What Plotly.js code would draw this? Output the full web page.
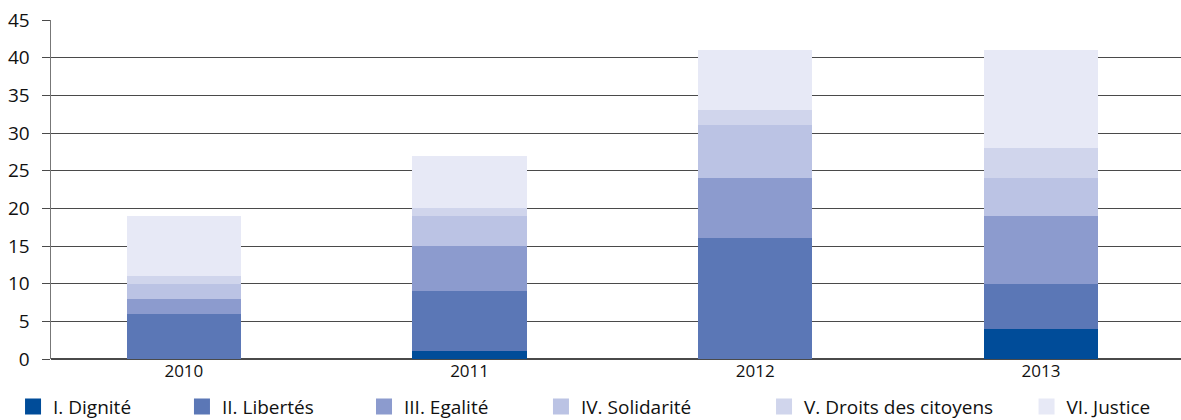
<!DOCTYPE html>
<html><head><meta charset="utf-8">
<script src="https://cdn.plot.ly/plotly-3.0.1.min.js"></script>
<style>html,body{margin:0;padding:0;background:#fff;}#chart{width:1181px;height:420px;}</style>
</head><body><div id="chart"></div>
<script>
const years = ['2010', '2011', '2012', '2013'];
const seriesNames = ['I. Dignité', 'II. Libertés', 'III. Egalité', 'IV. Solidarité', 'V. Droits des citoyens', 'VI. Justice'];
const dignite = [0, 1, 0, 4];
const libertes = [6, 8, 16, 6];
const egalite = [2, 6, 8, 9];
const solidarite = [2, 4, 7, 5];
const droits = [1, 1, 2, 4];
const justice = [8, 7, 8, 13];
const yTicks = [0, 5, 10, 15, 20, 25, 30, 35, 40, 45];
const colors = ['#004c99', '#5b77b6', '#8c9bce', '#bbc3e4', '#d0d5ec', '#e7e9f6'];
const legendX = [-0.0336, 0.1159, 0.2770, 0.4336, 0.6310, 0.8633];

const values = [dignite, libertes, egalite, solidarite, droits, justice];
const font = "'Open Sans', 'DejaVu Sans', sans-serif";
const traces = [];
values.forEach((v, i) => {
  traces.push({
    type: 'bar', x: years, y: v, name: seriesNames[i],
    marker: {color: colors[i], line: {width: 0}},
    showlegend: false, hoverinfo: 'y'
  });
});
const legendKeys = ['legend', 'legend2', 'legend3', 'legend4', 'legend5', 'legend6'];
values.forEach((v, i) => {
  traces.push({
    type: 'scatter', mode: 'markers', x: [null], y: [null], name: seriesNames[i],
    marker: {symbol: 'square', size: 16, color: colors[i]},
    legend: legendKeys[i]
  });
});

const layout = {
  width: 1181, height: 420,
  margin: {l: 51, r: 0, t: 20, b: 61, autoexpand: false},
  paper_bgcolor: '#fff', plot_bgcolor: '#fff',
  barmode: 'stack', bargap: 0.6,
  font: {family: font, color: '#111'},
  xaxis: {
    type: 'category', range: [-0.465, 3.49], showgrid: false,
    showline: false, zeroline: false, ticks: '',
    tickfont: {family: font, size: 17, color: '#111'}, fixedrange: true, automargin: false
  },
  yaxis: {
    range: [0, 45], tickvals: yTicks, ticktext: yTicks.map(String),
    showgrid: true, gridcolor: '#4a4a4a', gridwidth: 1,
    zeroline: true, zerolinecolor: '#4a4a4a', zerolinewidth: 1.5,
    showline: true, linecolor: '#777', linewidth: 1.5,
    ticks: 'outside', ticklen: 8, tickcolor: '#4a4a4a', tickwidth: 1,
    tickfont: {family: font, size: 19, color: '#111'}, ticklabelstandoff: 8, fixedrange: true, automargin: false
  },
  showlegend: true
};
legendKeys.forEach((k, i) => {
  layout[k] = {
    orientation: 'h', font: {family: font, size: 19, color: '#111'},
    bgcolor: 'rgba(0,0,0,0)', x: legendX[i], xanchor: 'left',
    y: 0.032, yref: 'container', yanchor: 'middle',
    itemclick: false, itemdoubleclick: false
  };
});

Plotly.newPlot('chart', traces, layout, {displayModeBar: false, staticPlot: true});
</script>
</body></html>
